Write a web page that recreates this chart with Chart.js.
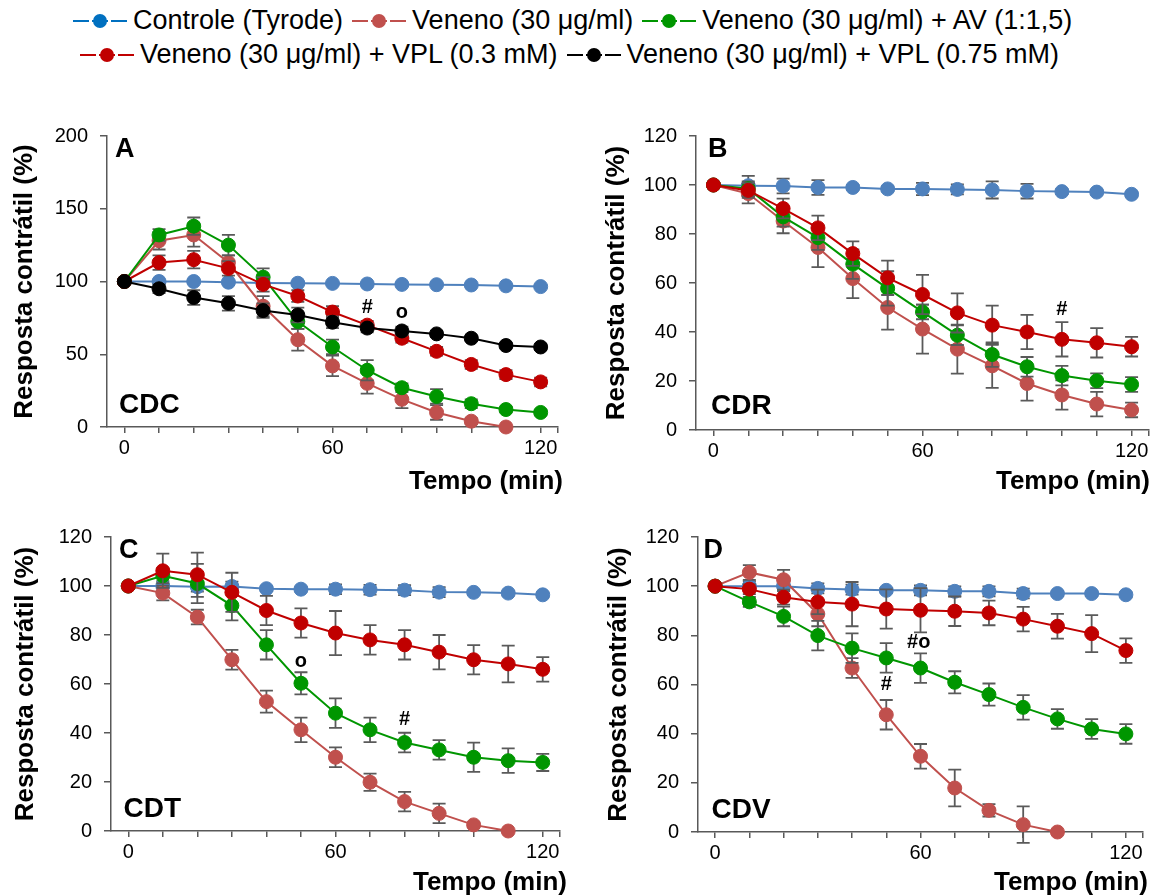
<!DOCTYPE html>
<html>
<head>
<meta charset="utf-8">
<script src="https://cdn.jsdelivr.net/npm/chart.js@4.4.1/dist/chart.umd.min.js"></script>
<style>
html,body{margin:0;padding:0;background:#fff;width:1160px;height:895px;overflow:hidden;font-family:"Liberation Sans",Arial,sans-serif;}
#stage{position:relative;width:1160px;height:895px;}
canvas{position:absolute;}
.row{position:absolute;white-space:nowrap;font-size:27px;line-height:30px;color:#000;}
.item{display:inline-block;margin-right:9px;}
.mk{display:inline-block;position:relative;width:54px;height:30px;vertical-align:top;margin-right:6px;}
.mk .ln{position:absolute;left:0;right:0;top:15px;height:2px;}
.mk .gap{position:absolute;top:14px;height:4px;width:3px;background:#fff;}
.mk .dot{position:absolute;left:20px;top:9px;width:14px;height:14px;border-radius:50%;}
</style>
</head>
<body>
<div id="stage">
  <div class="row" id="row1" style="left:73px;top:5px"></div>
  <div class="row" id="row2" style="left:80px;top:39px"></div>
  <canvas id="cA"></canvas>
  <canvas id="cB"></canvas>
  <canvas id="cC"></canvas>
  <canvas id="cD"></canvas>
</div>
<script>
// ---------------- data ----------------
const minutes = [0, 10, 20, 30, 40, 50, 60, 70, 80, 90, 100, 110, 120];
const xTickValues = [0, 10, 20, 30, 40, 50, 60, 70, 80, 90, 100, 110, 120, 125];
const xTickLabels = ['0', '60', '120'];
const yTicksA = [0, 50, 100, 150, 200];
const yTicksBCD = [0, 20, 40, 60, 80, 100, 120];

const seriesNames = [
  'Controle (Tyrode)',
  'Veneno (30 μg/ml)',
  'Veneno (30 μg/ml) + AV (1:1,5)',
  'Veneno (30 μg/ml) + VPL (0.3 mM)',
  'Veneno (30 μg/ml) + VPL (0.75 mM)'
];
const panelLetters = ['A', 'B', 'C', 'D'];
const panelNames = ['CDC', 'CDR', 'CDT', 'CDV'];
const yAxisTitle = 'Resposta contrátil (%)';
const xAxisTitle = 'Tempo (min)';

// Panel A (CDC)
const ctrlA     = [100, 100, 100, 99.5, 99, 98.8, 98.7, 98.3, 98, 97.8, 97.6, 97, 96.5];
const ctrlA_err = [0, 1, 1, 1, 1, 1, 1, 1, 1, 1, 1, 1, 1];
const venA      = [100, 128, 132, 113, 83, 60, 42, 30, 19, 10, 4, 0, null];
const venA_err  = [0, 6, 8, 5, 7, 7.5, 7, 7, 6, 5, 2, 0, 0];
const avA       = [100, 132, 138, 125, 103, 72.5, 55, 39, 27, 21, 16, 12, 10];
const avA_err   = [0, 4, 6, 7, 6, 5, 5, 7, 3, 5, 3, 2, 2];
const vpl03A    = [100, 113, 115, 109, 98, 90, 79, 70, 61, 52, 43, 36, 31];
const vpl03A_err= [0, 5, 6, 5, 5, 4, 4, 3, 3, 3, 3, 3, 3];
const vpl075A   = [100, 95, 89, 85, 80, 77, 72, 68, 66, 64, 61, 56, 55];
const vpl075A_err=[0, 3, 5, 5, 5, 5, 4, 3, 3, 2, 2, 2, 2];
const notesA = [{x: 70, y: 82, t: '#'}, {x: 80, y: 78.5, t: 'o'}];

// Panel B (CDR)
const ctrlB     = [100, 99.7, 99.6, 99, 99, 98.4, 98.4, 98.2, 98, 97.5, 97.3, 97.1, 96.2];
const ctrlB_err = [0, 4, 3, 3, 1, 1, 2.5, 2, 3.5, 3, 1, 1, 1];
const venB      = [100, 96.5, 85.3, 74.5, 61.8, 50, 41.2, 33, 26.2, 19, 14.3, 10.6, 8.2];
const venB_err  = [0, 4, 5, 8, 8, 9, 10, 10, 9, 7, 6, 5, 3];
const avB       = [100, 98.5, 87, 78.5, 67.7, 57.8, 48.2, 38.7, 30.8, 25.8, 22.2, 20.1, 18.6];
const avB_err   = [0, 3, 4, 5, 6, 7, 3, 4, 5, 4, 4, 3, 3];
const vpl03B    = [100, 97.8, 90.4, 82.5, 72, 62.1, 55.3, 47.8, 42.8, 40, 37, 35.6, 34];
const vpl03B_err= [0, 3, 4, 5, 5, 7, 8, 8, 8, 7, 7, 6, 4];
const notesB = [{x: 100, y: 49, t: '#'}];

// Panel C (CDT)
const ctrlC     = [100, 100, 99.7, 99.8, 98.9, 98.7, 98.7, 98.5, 98.3, 97.5, 97.4, 97.1, 96.4];
const ctrlC_err = [0, 2, 2, 2, 1, 1, 2, 2, 2, 2, 1, 1, 1];
const venC      = [100, 97.1, 87.3, 69.9, 52.8, 41.3, 30.1, 19.9, 12, 7.2, 2.5, 0, null];
const venC_err  = [0, 3, 3, 4, 4.5, 5, 4, 3.5, 4, 4, 1, 0, 0];
const avC       = [100, 104.2, 101, 92, 76, 60.3, 48.1, 41.3, 36.1, 33.1, 30.1, 28.7, 28];
const avC_err   = [0, 3, 8, 6, 6, 4.5, 6, 5, 4, 4, 6, 5, 3.5];
const vpl03C    = [100, 106.2, 104.6, 97.4, 90, 84.9, 80.8, 78, 76, 73, 69.9, 68.2, 66];
const vpl03C_err= [0, 7, 9, 8, 6, 6, 9, 6, 6, 7, 6, 7.5, 5];
const notesC = [{x: 50, y: 69, t: 'o'}, {x: 80, y: 45.5, t: '#'}];

// Panel D (CDV)
const ctrlD     = [100, 100, 100, 99.1, 98.6, 98.3, 98.3, 97.9, 97.9, 97, 97, 97, 96.5];
const ctrlD_err = [0, 2, 2, 2, 2, 1, 2, 2, 2, 2, 1, 1, 1];
const venD      = [100, 105.6, 102.6, 88.7, 66.7, 47.7, 30.8, 17.9, 8.8, 3, 0, null, null];
const venD_err  = [0, 3, 4, 5, 4, 6, 5, 7.5, 2.5, 7.4, 0, 0, 0];
const avD       = [100, 93.6, 87.7, 79.9, 74.8, 70.8, 66.7, 60.9, 55.9, 50.7, 46, 41.9, 39.9];
const avD_err   = [0, 2, 4, 6, 6, 6, 6, 4.5, 4.5, 5, 4, 4, 4];
const vpl03D    = [100, 98.8, 95.5, 93.6, 92.7, 90.7, 90.2, 89.8, 89.1, 86.6, 83.7, 80.7, 73.8];
const vpl03D_err= [0, 2, 3, 5, 9, 8, 9, 6, 5, 5, 5, 7.5, 5];
const notesD = [{x: 50, y: 60, t: '#'}, {x: 59.5, y: 77, t: '#o'}];

// ---------------- styles ----------------
const FONT = '"Liberation Sans", Arial, sans-serif';
const lineColors = ['#4F81BD', '#C0504D', '#009600', '#C00000', '#000000'];
const legendColors = ['#0070C0', '#C0504D', '#009600', '#C00000', '#000000'];
const AXIS = '#595959';

// ---------------- legend ----------------
function legendItem(i) {
  const c = legendColors[i];
  return '<span class="item"><span class="mk"><span class="ln" style="background:' + c + '"></span>' +
    '<span class="gap" style="left:16px"></span><span class="gap" style="left:35px"></span>' +
    '<span class="dot" style="background:' + c + '"></span></span>' + seriesNames[i] + '</span>';
}
document.getElementById('row1').innerHTML = [0, 1, 2].map(legendItem).join('');
document.getElementById('row2').innerHTML = [3, 4].map(legendItem).join('');

// ---------------- plugins ----------------
const errorBars = {
  id: 'errorBars',
  beforeDatasetDraw(chart, args) {
    const ds = chart.data.datasets[args.index];
    if (!ds.errors) return;
    const xs = chart.scales.x, ys = chart.scales.y, ctx = chart.ctx;
    ctx.save();
    ctx.strokeStyle = '#5a5a5a';
    ctx.lineWidth = 1.8;
    ds.data.forEach((p, k) => {
      const e = ds.errors[k];
      if (p.y === null || !e) return;
      const x = xs.getPixelForValue(p.x);
      const yt = ys.getPixelForValue(p.y + e), yb = ys.getPixelForValue(p.y - e);
      ctx.beginPath();
      ctx.moveTo(x, yt); ctx.lineTo(x, yb);
      ctx.moveTo(x - 6.5, yt); ctx.lineTo(x + 6.5, yt);
      ctx.moveTo(x - 6.5, yb); ctx.lineTo(x + 6.5, yb);
      ctx.stroke();
    });
    ctx.restore();
  }
};

const panelText = {
  id: 'panelText',
  afterDraw(chart, args, o) {
    const ctx = chart.ctx, a = chart.chartArea;
    const xs = chart.scales.x, ys = chart.scales.y;
    ctx.save();
    ctx.fillStyle = '#000';
    ctx.textBaseline = 'alphabetic';
    ctx.textAlign = 'left';
    ctx.font = 'bold 27px ' + FONT;
    ctx.fillText(o.letter, a.left + o.letterDx, a.top + 21);
    ctx.font = 'bold 28px ' + FONT;
    ctx.fillText(o.name, a.left + o.nameDx, a.bottom - o.nameDy);
    ctx.textAlign = 'right';
    ctx.font = 'bold 26px ' + FONT;
    ctx.fillText(xAxisTitle, a.right + o.titleDx, a.bottom + o.titleDy);
    ctx.textAlign = 'center';
    ctx.textBaseline = 'middle';
    ctx.font = 'bold 20px ' + FONT;
    o.notes.forEach(n => ctx.fillText(n.t, xs.getPixelForValue(n.x), ys.getPixelForValue(n.y)));
    ctx.restore();
  }
};

// ---------------- charts ----------------
function ds(i, vals, errs) {
  return {
    label: seriesNames[i],
    data: minutes.map((m, k) => ({x: m, y: vals[k]})),
    errors: errs,
    borderColor: lineColors[i],
    backgroundColor: lineColors[i],
    pointBackgroundColor: lineColors[i],
    pointBorderColor: lineColors[i],
    pointRadius: 7,
    pointHoverRadius: 7,
    pointBorderWidth: 1,
    borderWidth: 2,
    tension: 0,
    clip: false,
    spanGaps: false,
    order: 5 - i
  };
}

function makePanel(id, L, yTicks, datasets, letter, name, notes, T) {
  const cv = document.getElementById(id);
  cv.width = L.w; cv.height = L.h;
  cv.style.left = L.cx + 'px'; cv.style.top = L.cy + 'px';
  new Chart(cv, {
    type: 'line',
    data: {datasets},
    plugins: [errorBars, panelText],
    options: {
      responsive: false,
      animation: false,
      devicePixelRatio: 1,
      events: [],
      layout: {padding: {left: 0, bottom: 0, top: L.top - L.cy, right: L.cx + L.w - L.right}},
      plugins: {
        legend: {display: false},
        tooltip: {enabled: false},
        panelText: {letter, name, notes, letterDx: T.letterDx, nameDx: T.nameDx, nameDy: T.nameDy, titleDx: T.titleDx, titleDy: T.titleDy}
      },
      scales: {
        x: {
          type: 'linear',
          min: -5, max: 125,
          afterBuildTicks: s => { s.ticks = xTickValues.map(v => ({value: v})); },
          afterFit: s => { s.height = L.cy + L.h - L.bottom; },
          ticks: {
            autoSkip: false, maxRotation: 0, minRotation: 0,
            padding: 3, color: '#000',
            font: {size: 20, family: FONT},
            callback: v => xTickLabels.includes(String(v)) ? String(v) : ''
          },
          grid: {drawOnChartArea: false, drawTicks: true, tickLength: 6, color: AXIS, lineWidth: 1.5},
          border: {display: true, color: AXIS, width: 1.5}
        },
        y: {
          type: 'linear',
          min: yTicks[0], max: yTicks[yTicks.length - 1],
          afterBuildTicks: s => { s.ticks = yTicks.map(v => ({value: v})); },
          afterFit: s => { s.width = L.left - L.cx; },
          ticks: {padding: 12, color: '#000', font: {size: 20, family: FONT}},
          grid: {drawOnChartArea: false, drawTicks: true, tickLength: 7, color: AXIS, lineWidth: 1.5},
          border: {display: true, color: AXIS, width: 1.5},
          title: {
            display: true, text: yAxisTitle, color: '#000',
            font: {size: 26, weight: 'bold', family: FONT},
            padding: {top: T.yTitlePad, bottom: 0}
          }
        }
      }
    }
  });
}

makePanel('cA',
  {cx: 0, cy: 95, w: 580, h: 405, left: 107, right: 558, top: 136, bottom: 427},
  yTicksA,
  [ds(0, ctrlA, ctrlA_err), ds(1, venA, venA_err), ds(2, avA, avA_err), ds(3, vpl03A, vpl03A_err), ds(4, vpl075A, vpl075A_err)],
  panelLetters[0], panelNames[0], notesA,
  {letterDx: 8, nameDx: 12, nameDy: 14, titleDx: 5, titleDy: 61.5, yTitlePad: 9.4});

makePanel('cB',
  {cx: 580, cy: 95, w: 580, h: 405, left: 696, right: 1149, top: 136, bottom: 430},
  yTicksBCD,
  [ds(0, ctrlB, ctrlB_err), ds(1, venB, venB_err), ds(2, avB, avB_err), ds(3, vpl03B, vpl03B_err)],
  panelLetters[1], panelNames[1], notesB,
  {letterDx: 12, nameDx: 15, nameDy: 16.5, titleDx: 1, titleDy: 59.3, yTitlePad: 21.4});

makePanel('cC',
  {cx: 0, cy: 500, w: 580, h: 395, left: 111, right: 560, top: 537, bottom: 831},
  yTicksBCD,
  [ds(0, ctrlC, ctrlC_err), ds(1, venC, venC_err), ds(2, avC, avC_err), ds(3, vpl03C, vpl03C_err)],
  panelLetters[2], panelNames[2], notesC,
  {letterDx: 8, nameDx: 12.5, nameDy: 14.3, titleDx: 7, titleDy: 59, yTitlePad: 10.4});

makePanel('cD',
  {cx: 580, cy: 500, w: 580, h: 395, left: 698, right: 1143, top: 537, bottom: 832},
  yTicksBCD,
  [ds(0, ctrlD, ctrlD_err), ds(1, venD, venD_err), ds(2, avD, avD_err), ds(3, vpl03D, vpl03D_err)],
  panelLetters[3], panelNames[3], notesD,
  {letterDx: 5.5, nameDx: 13.5, nameDy: 13.7, titleDx: 5, titleDy: 58, yTitlePad: 23.4});
</script>
</body>
</html>
